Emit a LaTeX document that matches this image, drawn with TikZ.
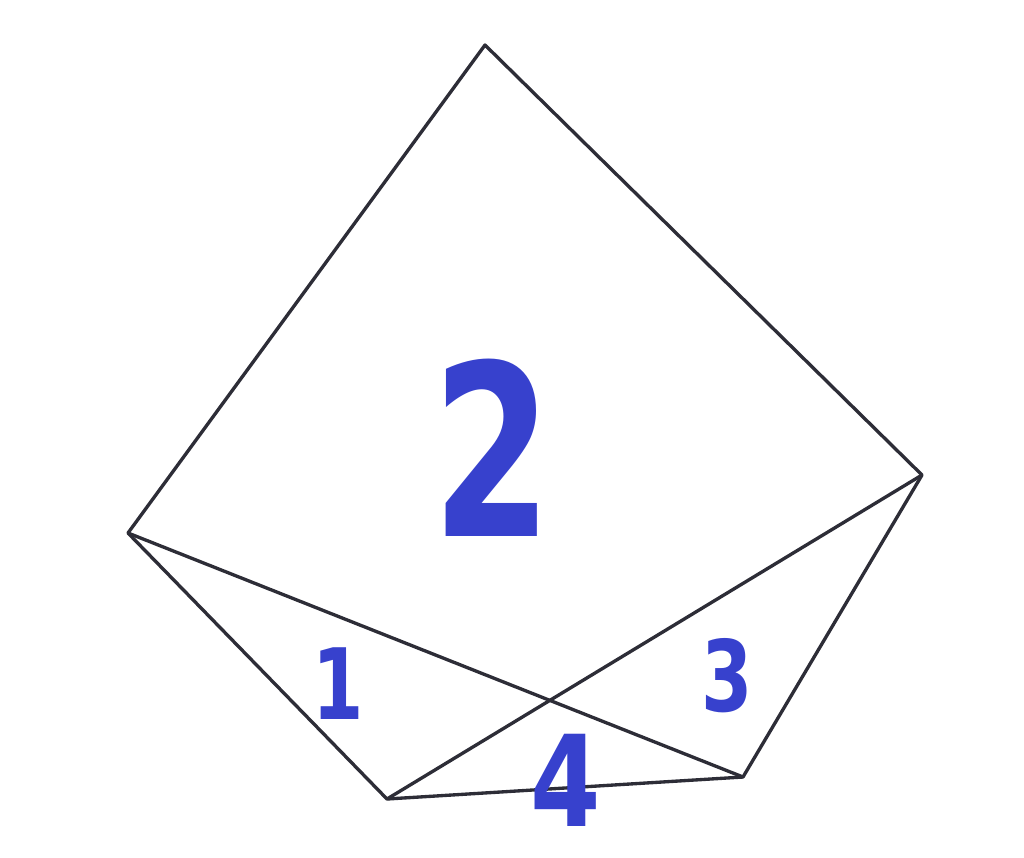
\documentclass[tikz,border=0pt]{standalone}
\usepackage{fontspec}
\setmainfont{DejaVu Sans}
\definecolor{penblue}{RGB}{55,65,205}
\definecolor{edgegray}{RGB}{45,45,55}
\begin{document}
\begin{tikzpicture}[x=0.01cm,y=-0.01cm,
  edge/.style={draw=edgegray,line width=0.95pt,line join=round},
  lab/.style={text=penblue,inner sep=0pt}]
\useasboundingbox (0,0) rectangle (1024,857);
\coordinate (T) at (485,45);
\coordinate (R) at (922,475);
\coordinate (BR) at (743,777);
\coordinate (BL) at (387,799);
\coordinate (L) at (128,533);
\draw[edge] (T) -- (R) -- (BR) -- (BL) -- (L) -- cycle;
\draw[edge] (L) -- (BR);
\draw[edge] (R) -- (BL);
\node[lab,font=\fontsize{68}{68}\selectfont\bfseries,xscale=0.72,transform shape] (two) at (492,448) {2};
\node[lab,font=\fontsize{28}{28}\selectfont\bfseries,xscale=0.75,transform shape] (one) at (338,684) {1};
\node[lab,font=\fontsize{28}{28}\selectfont\bfseries,xscale=0.75,transform shape] (three) at (727,676) {3};
\node[lab,font=\fontsize{36}{36}\selectfont\bfseries,xscale=0.8,transform shape] (four) at (566,780) {4};
\end{tikzpicture}
\end{document}
